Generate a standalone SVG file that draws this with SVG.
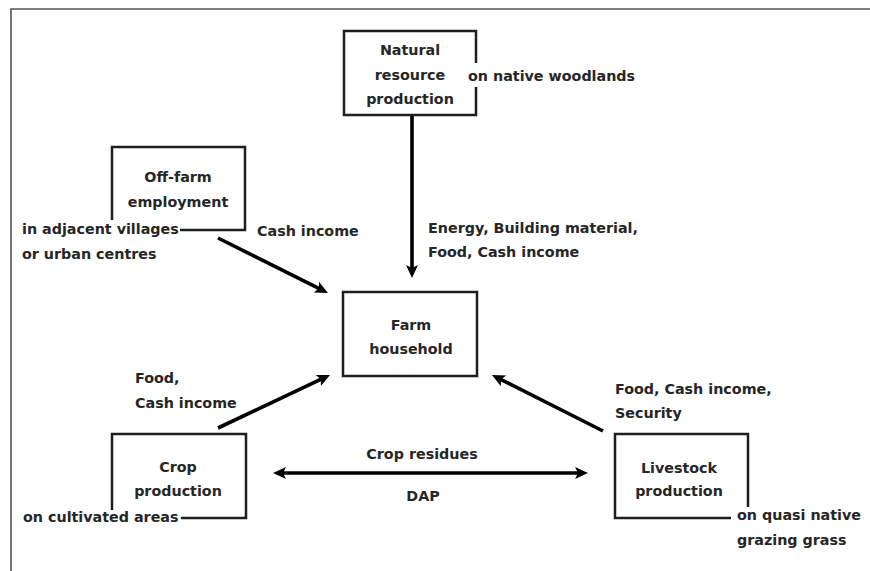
<svg xmlns="http://www.w3.org/2000/svg" width="870" height="571" viewBox="0 0 870 571">
<style>
text{font-family:"DejaVu Sans","Verdana",sans-serif;font-weight:bold;font-size:14.3px;fill:#262626}
.c{text-anchor:middle}
.box{fill:none;stroke:#1e1e1e;stroke-width:2.5}
.frame{fill:none;stroke:#555;stroke-width:1.6}
.arr{stroke:#000;stroke-width:3.6;fill:none}
</style>
<defs>
<marker id="ah" markerUnits="userSpaceOnUse" markerWidth="14" markerHeight="14" viewBox="0 0 14 14" refX="5" refY="7" orient="auto-start-reverse">
<path d="M0,1 L13,7 L0,13 L3,7 z" fill="#000"/>
</marker>
</defs>
<rect width="870" height="571" fill="#fff"/>
<path class="frame" d="M870,9 H11 V571"/>
<g id="natural">
<path class="box" d="M476,63 V31 H344 V115 H476 V87"/>
<text class="c" x="410" y="55">Natural</text>
<text class="c" x="410" y="80">resource</text>
<text class="c" x="410" y="104">production</text>
<text x="468" y="81">on native woodlands</text>
</g>
<g id="offfarm">
<path class="box" d="M112,220 V147 H245 V230 H180"/>
<text class="c" x="178" y="182">Off-farm</text>
<text class="c" x="178" y="207">employment</text>
<text x="22" y="234">in adjacent villages</text>
<text x="22" y="259">or urban centres</text>
</g>
<g id="farm">
<rect class="box" x="343" y="292" width="134" height="84"/>
<text class="c" x="411" y="330">Farm</text>
<text class="c" x="411" y="354">household</text>
</g>
<g id="crop">
<path class="box" d="M112,510 V434 H246 V518 H181"/>
<text class="c" x="178" y="472">Crop</text>
<text class="c" x="178" y="496">production</text>
<text x="23" y="522">on cultivated areas</text>
</g>
<g id="livestock">
<path class="box" d="M748,507 V434 H615 V518 H731"/>
<text class="c" x="679" y="473">Livestock</text>
<text class="c" x="679" y="496">production</text>
<text x="737" y="520">on quasi native</text>
<text x="737" y="545">grazing grass</text>
</g>
<g id="connectors">
<line class="arr" x1="412" y1="116" x2="412" y2="270" marker-end="url(#ah)"/>
<line class="arr" x1="218" y1="238" x2="320.8" y2="289.4" marker-end="url(#ah)"/>
<line class="arr" x1="218" y1="428" x2="322.8" y2="378.4" marker-end="url(#ah)"/>
<line class="arr" x1="603" y1="431" x2="499.1" y2="378.6" marker-end="url(#ah)"/>
<line class="arr" x1="281" y1="473" x2="580" y2="473" marker-start="url(#ah)" marker-end="url(#ah)"/>
<text x="428" y="233">Energy, Building material,</text>
<text x="428" y="257">Food, Cash income</text>
<text x="257" y="236">Cash income</text>
<text x="135" y="383">Food,</text>
<text x="135" y="408">Cash income</text>
<text x="615" y="394">Food, Cash income,</text>
<text x="615" y="418">Security</text>
<text class="c" x="422" y="459">Crop residues</text>
<text class="c" x="423" y="501">DAP</text>
</g>
</svg>
